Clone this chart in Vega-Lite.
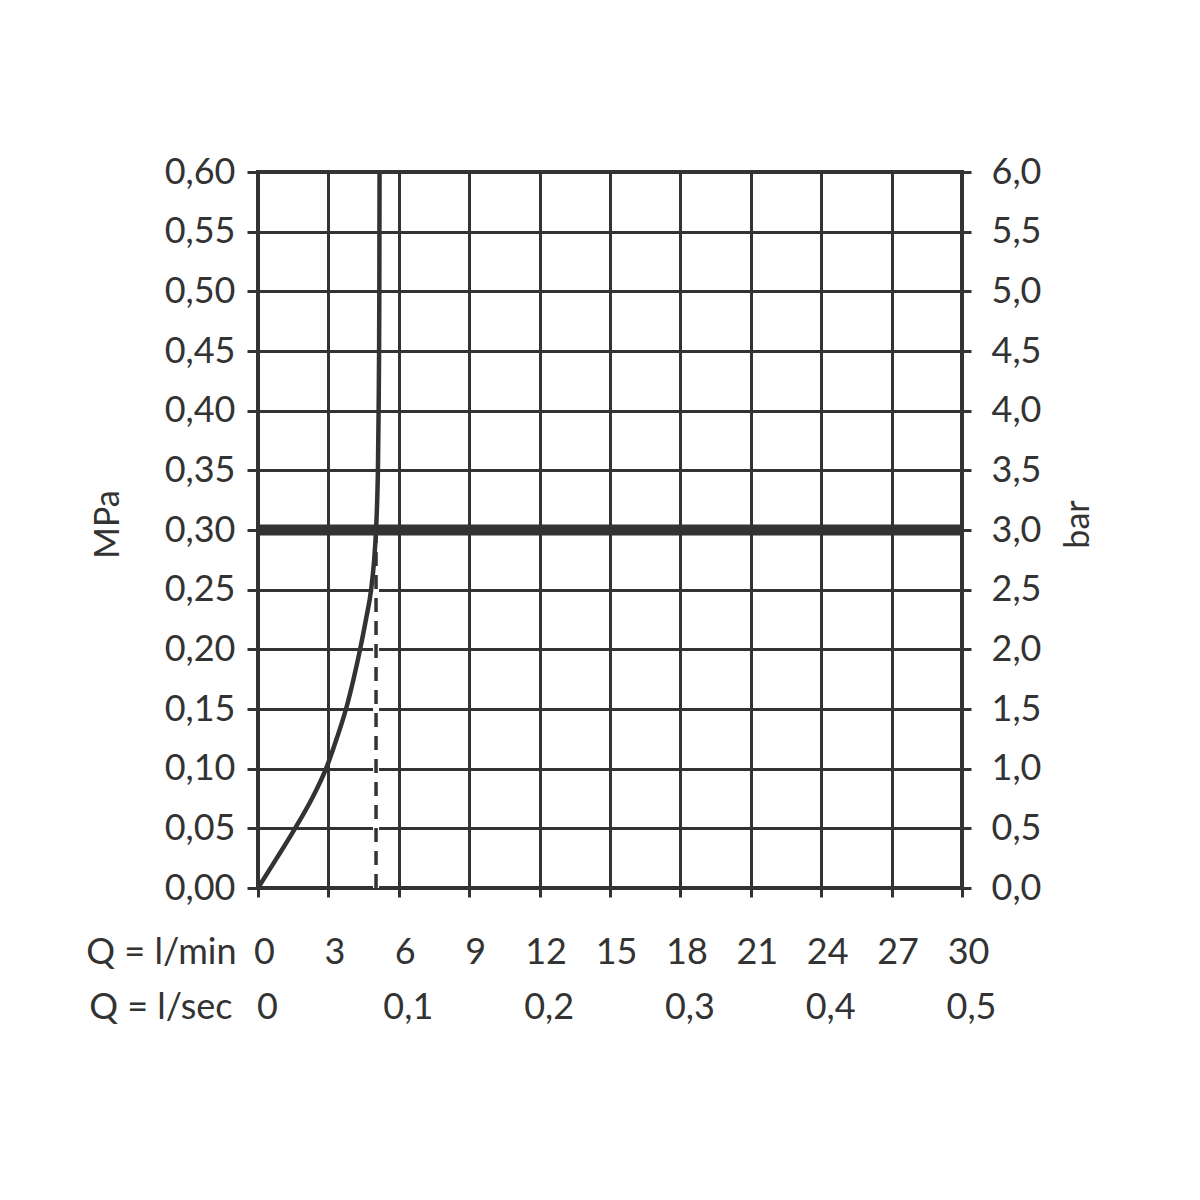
{
  "$schema": "https://vega.github.io/schema/vega-lite/v6.json",
  "width": 704,
  "height": 716,
  "autosize": {"type": "none"},
  "padding": {"left": 258, "top": 172, "right": 238, "bottom": 312},
  "background": "white",
  "config": {
    "view": {"stroke": "#333", "strokeWidth": 4},
    "font": "Lato",
    "axis": {
      "labelFont": "Lato", "titleFont": "Lato",
      "labelFontSize": 36, "titleFontSize": 36, "titleFontWeight": "normal",
      "labelColor": "#333", "titleColor": "#333",
      "tickColor": "#333", "tickWidth": 3, "gridColor": "#333", "gridWidth": 3, "gridOpacity": 1,
      "domain": false, "labelFlush": false, "labelOverlap": false, "labelBound": false
    }
  },
  "datasets": {
    "curve": [
      {"o": 0, "q": 0, "p": 0},
      {"o": 1, "q": 0.8, "p": 0.025},
      {"o": 2, "q": 1.58, "p": 0.05},
      {"o": 3, "q": 2.3, "p": 0.075},
      {"o": 4, "q": 2.9, "p": 0.1},
      {"o": 5, "q": 3.35, "p": 0.125},
      {"o": 6, "q": 3.75, "p": 0.15},
      {"o": 7, "q": 4.07, "p": 0.175},
      {"o": 8, "q": 4.35, "p": 0.2},
      {"o": 9, "q": 4.6, "p": 0.225},
      {"o": 10, "q": 4.82, "p": 0.25},
      {"o": 11, "q": 4.95, "p": 0.275},
      {"o": 12, "q": 5.03, "p": 0.3},
      {"o": 13, "q": 5.08, "p": 0.325},
      {"o": 14, "q": 5.11, "p": 0.35},
      {"o": 15, "q": 5.14, "p": 0.4},
      {"o": 16, "q": 5.16, "p": 0.45},
      {"o": 17, "q": 5.17, "p": 0.5},
      {"o": 18, "q": 5.18, "p": 0.6}
    ],
    "dash": [{"q": 5.03, "p": 0}, {"q": 5.03, "p": 0.3}],
    "limit": [{"p": 0.3}]
  },
  "layer": [
    {
      "data": {"name": "dash"},
      "mark": {"type": "line", "color": "white", "strokeWidth": 6},
      "encoding": {
        "x": {"field": "q", "type": "quantitative", "scale": {"domain": [0, 30], "nice": false, "zero": false},
          "axis": {"orient": "bottom", "values": [0, 3, 6, 9, 12, 15, 18, 21, 24, 27, 30],
            "tickSize": 9, "labelPadding": 66, "labelBaseline": "alphabetic", "labelOffset": 6,
            "grid": true, "title": "Q = l/min", "titleAngle": 0, "titleX": -22, "titleY": 75,
            "titleAlign": "right", "titleBaseline": "alphabetic"}},
        "y": {"field": "p", "type": "quantitative", "scale": {"domain": [0, 0.6], "nice": false, "zero": false},
          "axis": {"orient": "left", "values": [0, 0.05, 0.1, 0.15, 0.2, 0.25, 0.3, 0.35, 0.4, 0.45, 0.5, 0.55, 0.6],
            "labelExpr": "replace(format(datum.value, '.2f'), '.', ',')",
            "tickSize": 11, "labelPadding": 12, "grid": true,
            "title": "MPa", "titleAngle": -90, "titleX": -150, "titleY": 352,
            "titleAlign": "center", "titleBaseline": "middle", "titleFontSize": 34}}
      }
    },
    {
      "data": {"name": "dash"},
      "mark": {"type": "line", "color": "#333", "strokeWidth": 3.5, "strokeDash": [14, 9]},
      "encoding": {
        "x": {"field": "q", "type": "quantitative", "scale": {"domain": [0, 30], "nice": false, "zero": false}, "axis": null},
        "y": {"field": "p", "type": "quantitative", "scale": {"domain": [0, 0.6], "nice": false, "zero": false}, "axis": null}
      }
    },
    {
      "data": {"name": "limit"},
      "mark": {"type": "rule", "color": "#333", "strokeWidth": 11},
      "encoding": {
        "y": {"field": "p", "type": "quantitative", "scale": {"domain": [0, 0.6], "nice": false, "zero": false},
          "axis": {"orient": "right", "values": [0, 0.05, 0.1, 0.15, 0.2, 0.25, 0.3, 0.35, 0.4, 0.45, 0.5, 0.55, 0.6],
            "labelExpr": "replace(format(datum.value * 10, '.1f'), '.', ',')",
            "tickSize": 9, "labelPadding": 20, "labelAlign": "left", "grid": false,
            "title": "bar", "titleAngle": -90, "titleX": 116, "titleY": 352,
            "titleAlign": "center", "titleBaseline": "middle", "titleFontSize": 34}}
      }
    },
    {
      "data": {"name": "curve"},
      "mark": {"type": "line", "color": "#333", "strokeWidth": 4.5, "interpolate": "monotone"},
      "encoding": {
        "x": {"field": "q", "type": "quantitative", "scale": {"domain": [0, 30], "nice": false, "zero": false},
          "axis": {"orient": "bottom", "values": [0, 6, 12, 18, 24, 30],
            "labelExpr": "datum.value == 0 ? '0' : replace(format(datum.value / 60, '.1f'), '.', ',')",
            "ticks": false, "tickSize": 0, "labelPadding": 130, "labelBaseline": "alphabetic", "labelOffset": 9,
            "grid": false, "title": "Q = l/sec", "titleAngle": 0, "titleX": -26, "titleY": 130,
            "titleAlign": "right", "titleBaseline": "alphabetic"}},
        "y": {"field": "p", "type": "quantitative", "scale": {"domain": [0, 0.6], "nice": false, "zero": false}, "axis": null},
        "order": {"field": "o", "type": "quantitative"}
      }
    }
  ],
  "resolve": {"scale": {"x": "independent", "y": "independent"}}
}
